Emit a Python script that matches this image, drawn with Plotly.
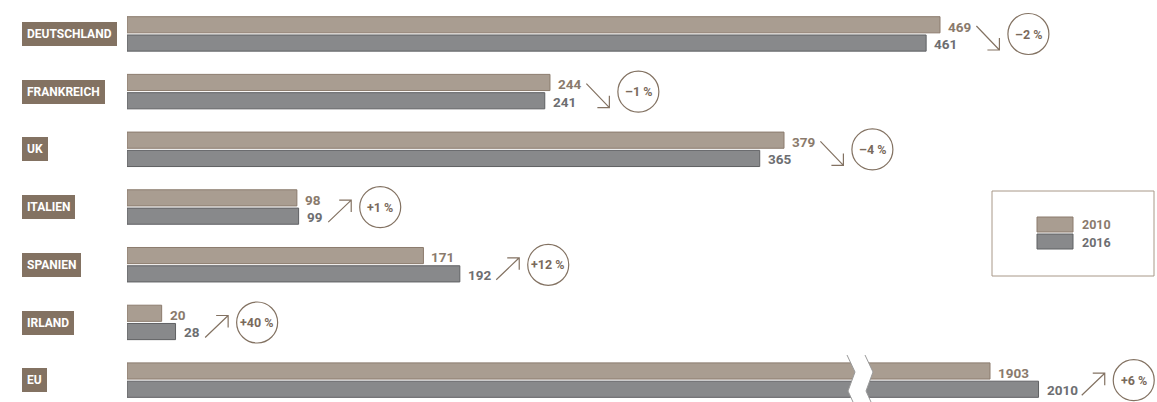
import plotly.graph_objects as go

# data
countries = ["DEUTSCHLAND", "FRANKREICH", "UK", "ITALIEN", "SPANIEN", "IRLAND", "EU"]
v2010 = [469, 244, 379, 98, 171, 20, 1903]
v2016 = [461, 241, 365, 99, 192, 28, 2010]
changes = ["–2 %", "–1 %", "–4 %", "+1 %", "+12 %", "+40 %", "+6 %"]
years = ["2010", "2016"]

W, H = 1157, 402
FONT = "Roboto, Liberation Sans, sans-serif"
C10, L10, T10 = "#a99d91", "#8b7b6d", "#8a7a6c"
C16, L16, T16 = "#88898b", "#5f6063", "#6d6e71"
BROWN = "#837262"

ROW0, ROWSTEP = 34, 57.7          # pixel centre of first row and spacing
X0 = 127                          # pixel of the zero line
SCALE_MAIN, SCALE_EU = 1.7335, 0.4535   # px per unit (EU row has a broken axis)


def px(x):
    return x / W


def py(y):
    return 1 - y / H


n = len(countries)
rows = list(range(n))
main = rows[:-1]
eu = rows[-1:]

fig = go.Figure()
bar_w = 0.28
for xs, ax in ((main, "x"), (eu, "x2")):
    fig.add_trace(go.Bar(y=xs, x=[v2010[i] for i in xs], orientation="h", xaxis=ax,
                         width=bar_w, offset=-0.30, marker=dict(color=C10, line=dict(color=L10, width=1)),
                         showlegend=False, hoverinfo="skip"))
    fig.add_trace(go.Bar(y=xs, x=[v2016[i] for i in xs], orientation="h", xaxis=ax,
                         width=bar_w, offset=0.017, marker=dict(color=C16, line=dict(color=L16, width=1)),
                         showlegend=False, hoverinfo="skip"))

shapes, ann = [], []
for i in rows:
    ax = "x2" if i == n - 1 else "x"
    # country label box
    ann.append(dict(xref="paper", yref="y", x=px(22), y=i, xanchor="left", yanchor="middle",
                    text=countries[i], showarrow=False, bgcolor=BROWN, bordercolor=BROWN,
                    borderwidth=0, borderpad=5,
                    font=dict(family=FONT, size=12, color="white", weight="bold")))
    # value labels
    for val, dy, col in ((v2010[i], -0.13, T10), (v2016[i], 0.17, T16)):
        ann.append(dict(xref=ax, yref="y", x=val, y=i + dy, xanchor="left", yanchor="middle",
                        xshift=6, text=str(val), showarrow=False,
                        font=dict(family=FONT, size=13.5, color=col, weight="bold")))
    # arrow + circle, anchored to the longer bar
    vmax = max(v2010[i], v2016[i])
    w = 6.8 * len(str(vmax))
    a0 = 6 + w + 10
    a1 = a0 + 23
    up = v2016[i] > v2010[i]
    if up:
        p = (f"M{a0},-15 L{a1},7 M{a1 - 12},7 L{a1},7 L{a1},-5")
    else:
        p = (f"M{a0},8 L{a1},-16 M{a1 - 12},-16 L{a1},-16 L{a1},-4")
    shapes.append(dict(type="path", xref=ax, yref="y", xsizemode="pixel", ysizemode="pixel",
                       xanchor=vmax, yanchor=i, path=p, line=dict(color=BROWN, width=1.2)))
    cx, r = a1 + 29, 20.5
    shapes.append(dict(type="circle", xref=ax, yref="y", xsizemode="pixel", ysizemode="pixel",
                       xanchor=vmax, yanchor=i, x0=cx - r, x1=cx + r, y0=-r, y1=r,
                       line=dict(color=BROWN, width=1.2), fillcolor="rgba(0,0,0,0)"))
    ann.append(dict(xref=ax, yref="y", x=vmax, y=i, xshift=cx, xanchor="center", yanchor="middle",
                    text=changes[i], showarrow=False,
                    font=dict(family=FONT, size=12.5, color="#7a6a5c", weight="bold")))

# axis break on the EU row
lx = [847, 855, 848, 853]
ly = [355, 372, 391, 402]
gap = 18
left = " L".join(f"{px(x)},{py(y)}" for x, y in zip(lx, ly))
right = " L".join(f"{px(x + gap)},{py(y)}" for x, y in zip(reversed(lx), reversed(ly)))
shapes.append(dict(type="path", xref="paper", yref="paper", path=f"M{left} L{right} Z",
                   fillcolor="white", line=dict(width=0), layer="above"))
for off in (0, gap):
    shapes.append(dict(type="path", xref="paper", yref="paper",
                       path="M" + " L".join(f"{px(x + off)},{py(y)}" for x, y in zip(lx, ly)),
                       line=dict(color="#9a9a9a", width=1), layer="above"))

# legend box
shapes.append(dict(type="rect", xref="paper", yref="paper", x0=px(992), x1=px(1154),
                   y0=py(276), y1=py(191), line=dict(color="#a89888", width=1)))
for k, (fc, lc, tc) in enumerate(((C10, L10, T10), (C16, L16, T16))):
    y_top = 217 + 17 * k
    shapes.append(dict(type="rect", xref="paper", yref="paper", x0=px(1037), x1=px(1073),
                       y0=py(y_top + 15), y1=py(y_top), fillcolor=fc, line=dict(color=lc, width=1)))
    ann.append(dict(xref="paper", yref="paper", x=px(1080), y=py(y_top + 8), xanchor="left",
                    yanchor="middle", text=years[k], showarrow=False,
                    font=dict(family=FONT, size=12.5, color=tc, weight="bold")))

span = W - X0
fig.update_layout(
    width=W, height=H, margin=dict(l=0, r=0, t=0, b=0),
    plot_bgcolor="white", paper_bgcolor="white", showlegend=False,
    xaxis=dict(domain=[px(X0), 1], range=[0, span / SCALE_MAIN], visible=False, fixedrange=True),
    xaxis2=dict(domain=[px(X0), 1], range=[0, span / SCALE_EU], overlaying="x", visible=False,
                fixedrange=True),
    yaxis=dict(range=[(H - ROW0) / ROWSTEP, -ROW0 / ROWSTEP], visible=False, fixedrange=True),
    shapes=shapes, annotations=ann,
)
fig.write_html("out.html", config={"displayModeBar": False},
               post_script="document.body.style.margin='0';document.body.style.overflow='hidden';")
